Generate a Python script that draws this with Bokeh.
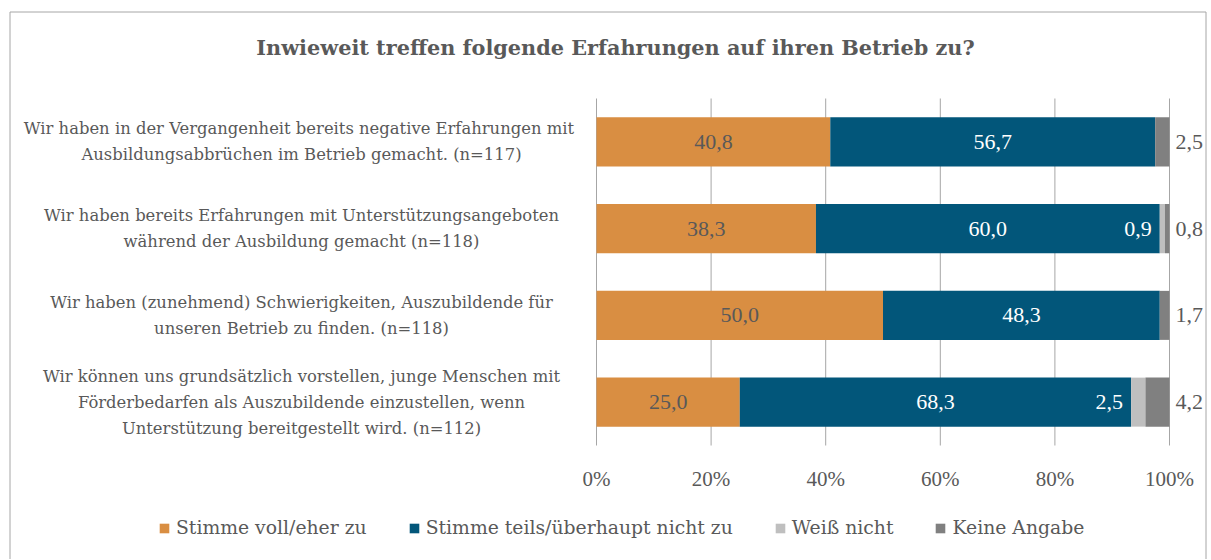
from bokeh.plotting import figure
from bokeh.models import ColumnDataSource, Legend, LegendItem, Range1d
from bokeh.embed import file_html
from bokeh.resources import INLINE
from bokeh.core.properties import value

# ---------------- data ----------------
categories = [
    "Wir haben in der Vergangenheit  bereits negative Erfahrungen mit\nAusbildungsabbrüchen im Betrieb gemacht. (n=117)",
    "Wir haben bereits Erfahrungen mit Unterstützungsangeboten\nwährend der Ausbildung gemacht (n=118)",
    "Wir haben (zunehmend) Schwierigkeiten, Auszubildende für\nunseren Betrieb zu finden. (n=118)",
    "Wir können uns grundsätzlich vorstellen, junge Menschen mit\nFörderbedarfen als Auszubildende einzustellen, wenn\nUnterstützung bereitgestellt wird. (n=112)",
]
voll = [40.8, 38.3, 50.0, 25.0]
teils = [56.7, 60.0, 48.3, 68.3]
weiss = [0.0, 0.9, 0.0, 2.5]
keine = [2.5, 0.8, 1.7, 4.2]
series_names = ["Stimme voll/eher zu", "Stimme teils/überhaupt nicht zu", "Weiß nicht", "Keine Angabe"]
tick_values = [0, 20, 40, 60, 80, 100]
tick_labels = ["0%", "20%", "40%", "60%", "80%", "100%"]
title_text = "Inwieweit treffen folgende Erfahrungen auf ihren Betrieb zu?"

# ---------------- style / layout constants (page pixels) ----------------
colors = ["#D98E42", "#02567A", "#BFBFBF", "#808080"]
TEXT = "#595959"
GRID = "#A6A6A6"
SERIF = "DejaVu Serif"
NUMF = "Liberation Serif"
W, H = 1210, 559
PAGE_X0, PAGE_Y0 = 0, 0          # canvas origin on the page
ZERO_PAGE, FULL_PAGE = 596.0, 1169.0
PX_PER = (FULL_PAGE - ZERO_PAGE) / 100.0
BAND_TOP, BAND_BOTTOM = 98.0, 445.0
n = len(categories)
BAND_PX = (BAND_BOTTOM - BAND_TOP) / n
BOX_L, BOX_T, BOX_R = 9.5, 11.5, 1205.5


def px_to_x(px):
    return (px - ZERO_PAGE) / PX_PER


def py_to_y(py):
    return (n - 0.5) - (py - BAND_TOP) / BAND_PX


def fmt(v):
    return f"{v:.1f}".replace(".", ",")


ys = [n - 1 - i for i in range(n)]
source = ColumnDataSource(dict(y=ys, voll=voll, teils=teils, weiss=weiss, keine=keine))

p = figure(width=W, height=H, output_backend="svg", toolbar_location=None,
           x_range=Range1d(px_to_x(PAGE_X0), px_to_x(PAGE_X0 + W)),
           y_range=Range1d(py_to_y(PAGE_Y0 + H), py_to_y(PAGE_Y0)),
           min_border=0, x_axis_location=None, y_axis_location=None,
           background_fill_color="white", border_fill_color="white")
p.outline_line_color = None
p.grid.grid_line_color = None

# outer chart frame (left, top, right)
p.line(x=[px_to_x(BOX_L), px_to_x(BOX_L), px_to_x(BOX_R), px_to_x(BOX_R)],
       y=[py_to_y(PAGE_Y0 + H), py_to_y(BOX_T), py_to_y(BOX_T), py_to_y(PAGE_Y0 + H)],
       line_color=GRID, line_width=1)

# vertical gridlines at the tick values
p.segment(x0=tick_values, y0=[-0.5] * len(tick_values), x1=tick_values,
          y1=[n - 0.5] * len(tick_values), line_color=GRID, line_width=1)

renderers = p.hbar_stack(["voll", "teils", "weiss", "keine"], y="y", height=0.565,
                         color=colors, line_color=None, source=source)

# title
p.text(x=[px_to_x(615)], y=[py_to_y(47)], text=[title_text], text_align="center",
       text_baseline="middle", text_font=value(SERIF), text_font_size="20.8px",
       text_font_style="bold", text_color=TEXT)

# tick labels
p.text(x=tick_values, y=[py_to_y(478)] * len(tick_values), text=tick_labels,
       text_align="center", text_baseline="middle", text_font=value(NUMF),
       text_font_size="21px", text_color=TEXT)

# category labels (one glyph row per text line)
LINE_PX = 26
lx, ly, lt, lo = [], [], [], []
for y, cat in zip(ys, categories):
    lines = cat.split("\n")
    m = len(lines)
    for k, line in enumerate(lines):
        lx.append(px_to_x(301))
        ly.append(y)
        lt.append(line)
        lo.append((k - (m - 1) / 2) * LINE_PX)
cat_src = ColumnDataSource(dict(x=lx, y=ly, text=lt, off=lo))
p.text(x="x", y="y", text="text", y_offset="off", source=cat_src, text_align="center",
       text_baseline="middle", text_font=value(SERIF), text_font_size="16.4px", text_color=TEXT)

# data labels
LBL = "22px"
p.text(x=[v / 2 for v in voll], y=ys, text=[fmt(v) for v in voll], text_align="center",
       text_baseline="middle", text_font=value(NUMF), text_font_size=LBL, text_color=TEXT)
p.text(x=[a + b / 2 for a, b in zip(voll, teils)], y=ys, text=[fmt(v) for v in teils],
       text_align="center", text_baseline="middle", text_font=value(NUMF),
       text_font_size=LBL, text_color="white")
WEISS_GAP = 1.4
wx = [a + b - WEISS_GAP for a, b, w in zip(voll, teils, weiss) if w > 0]
wy = [y for y, w in zip(ys, weiss) if w > 0]
wt = [fmt(w) for w in weiss if w > 0]
p.text(x=wx, y=wy, text=wt, text_align="right", text_baseline="middle",
       text_font=value(NUMF), text_font_size=LBL, text_color="white")
p.text(x=[px_to_x(1175)] * n, y=ys, text=[fmt(v) for v in keine], text_align="left",
       text_baseline="middle", text_font=value(NUMF), text_font_size=LBL, text_color=TEXT)

LEG_LEFT, LEG_CY, LEG_HALF = 158, 527, 11
legend = Legend(items=[LegendItem(label=s, renderers=[r]) for s, r in zip(series_names, renderers)],
                orientation="horizontal",
                location=(LEG_LEFT - PAGE_X0, (PAGE_Y0 + H) - (LEG_CY + LEG_HALF)),
                border_line_color=None, background_fill_alpha=0, label_text_font=SERIF,
                label_text_font_size="18.8px", label_text_color=TEXT, glyph_width=12,
                glyph_height=12, label_standoff=6, spacing=41, margin=0, padding=0)
p.add_layout(legend, "center")

open("out.html", "w").write(file_html(p, INLINE))
